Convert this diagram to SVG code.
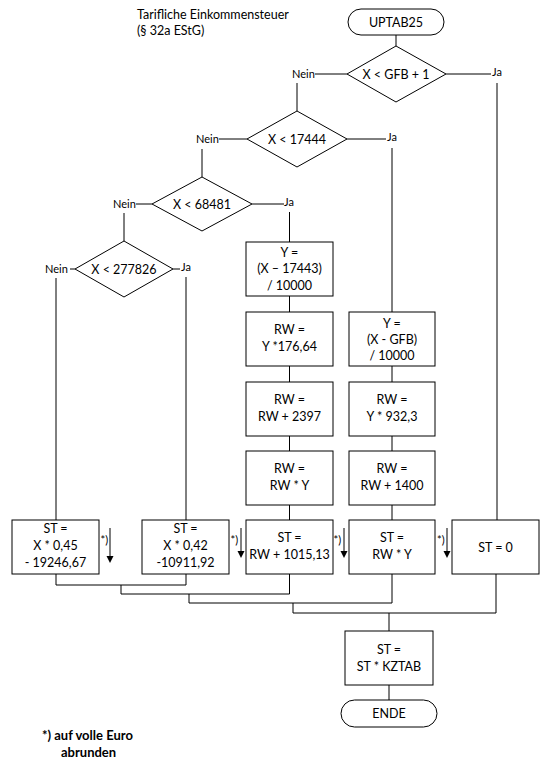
<svg xmlns="http://www.w3.org/2000/svg" width="545" height="761" viewBox="0 0 545 761">
<style>
.s{fill:#fff;stroke:#000;stroke-width:1}
.t{font-family:Lato,"Open Sans",sans-serif;font-size:12.5px;fill:#000;text-anchor:middle}
.l{font-family:Lato,"Open Sans",sans-serif;font-size:11px;fill:#000}
.c{fill:none;stroke:#000;stroke-width:1}
.h{fill:#000;stroke:none}
.f{font-family:Lato,"Open Sans",sans-serif;font-size:13px;font-weight:bold;fill:#000}
</style>
<rect width="545" height="761" fill="#fff"/>
<g id="title">
<text class="l" style="font-size:12.5px" x="137" y="18.5">Tarifliche Einkommensteuer</text>
<text class="l" style="font-size:12.5px" x="137" y="35">(§ 32a EStG)</text>
</g>
<g id="connectors">
<path class="c" d="M396,35 V46"/>
<path class="c" d="M315,74 H347 M446,74 H491"/>
<path class="c" d="M297,83 V111 M497,83 V520"/>
<path class="c" d="M219,139 H247 M347,139 H386"/>
<path class="c" d="M202,149 V177 M392,148 V312"/>
<path class="c" d="M136,204 H152 M252,204 H284"/>
<path class="c" d="M124,213 V241 M289.5,212 V242"/>
<path class="c" d="M70,269 H75 M173,269 H180"/>
<path class="c" d="M56,278 V520 M186,277 V520"/>
<path class="c" d="M289.5,296 V312 M289.5,366 V382 M289.5,436 V451 M289.5,505 V520"/>
<path class="c" d="M392,366 V382 M392,436 V451 M392,505 V520"/>
<path class="c" d="M56,574 V585 H186 V574"/>
<path class="c" d="M121,585 V594 H289.5 V574"/>
<path class="c" d="M189,594 V603 H392 V574"/>
<path class="c" d="M293,603 V613 H496 V574"/>
<path class="c" d="M389,613 V631"/>
<path class="c" d="M389,685 V700"/>
</g>
<g id="labels">
<text class="l" x="292" y="78">Nein</text>
<text class="l" x="492" y="75.5">Ja</text>
<text class="l" x="196" y="143">Nein</text>
<text class="l" x="387" y="141">Ja</text>
<text class="l" x="113" y="208">Nein</text>
<text class="l" x="284" y="206">Ja</text>
<text class="l" x="45" y="273">Nein</text>
<text class="l" x="181" y="271">Ja</text>
</g>
<g id="start">
<rect class="s" x="348" y="9" width="96" height="26" rx="13"/>
<text class="t" x="396" y="27">UPTAB25</text>
</g>
<g id="d1">
<polygon class="s" points="396,46 446,74 396,102 347,74"/>
<text class="t" x="396" y="78.5">X &lt; GFB + 1</text>
</g>
<g id="d2">
<polygon class="s" points="297,111 347,139 297,167 247,139"/>
<text class="t" x="297" y="143.5">X &lt; 17444</text>
</g>
<g id="d3">
<polygon class="s" points="202,177 252,204 202,231 152,204"/>
<text class="t" x="202" y="208.5">X &lt; 68481</text>
</g>
<g id="d4">
<polygon class="s" points="124,241 173,269 124,297 75,269"/>
<text class="t" x="124" y="273.5">X &lt; 277826</text>
</g>
<g id="a1">
<rect class="s" x="246" y="242" width="87" height="54"/>
<text class="t" x="289.5" y="256.5">Y =</text>
<text class="t" x="289.5" y="273">(X – 17443)</text>
<text class="t" x="289.5" y="289.5">/ 10000</text>
</g>
<g id="a2">
<rect class="s" x="246" y="312" width="87" height="54"/>
<text class="t" x="289.5" y="334">RW =</text>
<text class="t" x="289.5" y="351">Y *176,64</text>
</g>
<g id="a3">
<rect class="s" x="246" y="382" width="87" height="54"/>
<text class="t" x="289.5" y="404">RW =</text>
<text class="t" x="289.5" y="421">RW + 2397</text>
</g>
<g id="a4">
<rect class="s" x="246" y="451" width="87" height="54"/>
<text class="t" x="289.5" y="473">RW =</text>
<text class="t" x="289.5" y="490">RW * Y</text>
</g>
<g id="b1">
<rect class="s" x="349" y="312" width="86" height="54"/>
<text class="t" x="392" y="327.5">Y =</text>
<text class="t" x="392" y="343.5">(X - GFB)</text>
<text class="t" x="392" y="360">/ 10000</text>
</g>
<g id="b2">
<rect class="s" x="349" y="382" width="86" height="54"/>
<text class="t" x="392" y="404">RW =</text>
<text class="t" x="392" y="421">Y * 932,3</text>
</g>
<g id="b3">
<rect class="s" x="349" y="451" width="86" height="54"/>
<text class="t" x="392" y="473">RW =</text>
<text class="t" x="392" y="490">RW + 1400</text>
</g>
<g id="st1">
<rect class="s" x="12" y="520" width="87" height="54"/>
<text class="t" x="55.5" y="533">ST =</text>
<text class="t" x="55.5" y="550">X * 0,45</text>
<text class="t" x="55.5" y="567">- 19246,67</text>
</g>
<g id="st2">
<rect class="s" x="142" y="520" width="87" height="54"/>
<text class="t" x="185.5" y="533">ST =</text>
<text class="t" x="185.5" y="550">X * 0,42</text>
<text class="t" x="185.5" y="567">-10911,92</text>
</g>
<g id="st3">
<rect class="s" x="246" y="520" width="87" height="54"/>
<text class="t" x="289.5" y="542">ST =</text>
<text class="t" x="289.5" y="559">RW + 1015,13</text>
</g>
<g id="st4">
<rect class="s" x="349" y="520" width="86" height="54"/>
<text class="t" x="392" y="542">ST =</text>
<text class="t" x="392" y="559">RW * Y</text>
</g>
<g id="st5">
<rect class="s" x="452" y="520" width="87" height="54"/>
<text class="t" x="495.5" y="551.5">ST = 0</text>
</g>
<g id="round">
<text class="l" x="100.5" y="544">*)</text>
<path class="c" d="M110,528 V556"/><path class="h" d="M106.5,556 H113.5 L110,563 Z"/>
<text class="l" x="230.5" y="544">*)</text>
<path class="c" d="M241,528 V551"/><path class="h" d="M237.5,551 H244.5 L241,558 Z"/>
<text class="l" x="333.5" y="544">*)</text>
<path class="c" d="M344,528 V551"/><path class="h" d="M340.5,551 H347.5 L344,558 Z"/>
<text class="l" x="437" y="544">*)</text>
<path class="c" d="M447,528 V551"/><path class="h" d="M443.5,551 H450.5 L447,558 Z"/>
</g>
<g id="kz">
<rect class="s" x="345" y="631" width="88" height="54"/>
<text class="t" x="389" y="654">ST =</text>
<text class="t" x="389" y="671">ST * KZTAB</text>
</g>
<g id="end">
<rect class="s" x="341" y="700" width="96" height="27" rx="13.5"/>
<text class="t" x="389" y="718">ENDE</text>
</g>
<g id="note">
<text class="f" x="42" y="740">*) auf volle Euro</text>
<text class="f" x="61" y="757">abrunden</text>
</g>
</svg>
